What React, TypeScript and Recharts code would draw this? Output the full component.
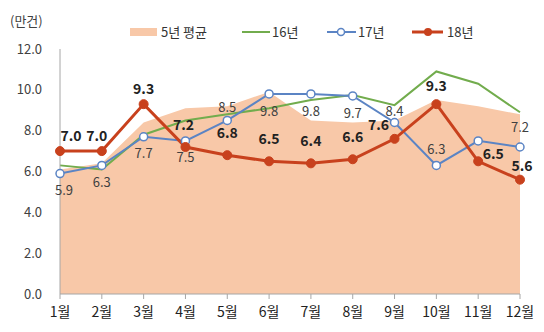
import { ComposedChart, Area, Line, XAxis, YAxis, LabelList } from "recharts";

const months = ["1월", "2월", "3월", "4월", "5월", "6월", "7월", "8월", "9월", "10월", "11월", "12월"];
const avg5 = [6.1, 6.4, 8.4, 9.1, 9.2, 9.9, 8.5, 8.4, 8.5, 9.5, 9.2, 8.8];
const y16 = [6.3, 6.1, 7.8, 8.5, 8.8, 9.1, 9.5, 9.75, 9.25, 10.9, 10.3, 8.9];
const y17 = [5.9, 6.3, 7.7, 7.5, 8.5, 9.8, 9.8, 9.7, 8.4, 6.3, 7.5, 7.2];
const y18 = [7.0, 7.0, 9.3, 7.2, 6.8, 6.5, 6.4, 6.6, 7.6, 9.3, 6.5, 5.6];
const show17 = [true, true, true, true, true, true, true, true, true, true, false, true];
const yTicks = [0, 2, 4, 6, 8, 10, 12];

// label offsets [dx, dy] relative to the point
const off17: [number, number][] = [
  [4, 18], [0, 18], [0, 18], [0, 18], [0, -12], [0, 19], [0, 19], [0, 19], [0, -10], [0, -15], [0, 0], [0, -19],
];
const off18: [number, number][] = [
  [11, -14], [-5, -14], [0, -14], [-2, -21], [0, -21], [0, -21], [0, -21], [0, -21], [-16, -13], [0, -17], [15, -6], [2, -12],
];

const data = months.map((m, i) => ({ m, avg5: avg5[i], y16: y16[i], y17: y17[i], y18: y18[i] }));

const FONT = '"Noto Sans CJK KR", "Noto Sans", sans-serif';

const Label17 = (props: any) => {
  const { x, y, index, value } = props;
  if (!show17[index]) return null;
  const [dx, dy] = off17[index];
  return (
    <text x={x + dx} y={y + dy} textAnchor="middle" dominantBaseline="middle" fontSize={13} fill="#404040" fontFamily={FONT}>
      {value.toFixed(1)}
    </text>
  );
};

const Label18 = (props: any) => {
  const { x, y, index, value } = props;
  const [dx, dy] = off18[index];
  return (
    <text x={x + dx} y={y + dy} textAnchor="middle" dominantBaseline="middle" fontSize={14} fontWeight="bold" fill="#222" fontFamily={FONT}>
      {value.toFixed(1)}
    </text>
  );
};

const LegendBox = () => (
  <g fontFamily={FONT} fontSize={13} fill="#333">
    <rect x={130} y={28} width={27} height={8} fill="#F8C8A8" />
    <text x={161} y={33} dominantBaseline="middle">5년 평균</text>
    <line x1={242} y1={32} x2={270} y2={32} stroke="#72AC4D" strokeWidth={2} />
    <text x={272} y={33} dominantBaseline="middle">16년</text>
    <line x1={327} y1={32} x2={356} y2={32} stroke="#5B84C4" strokeWidth={2} />
    <circle cx={341} cy={32} r={3.5} fill="#fff" stroke="#5B84C4" strokeWidth={1.5} />
    <text x={358} y={33} dominantBaseline="middle">17년</text>
    <line x1={412} y1={32} x2={443} y2={32} stroke="#C8411D" strokeWidth={3} />
    <circle cx={428} cy={32} r={4} fill="#C8411D" />
    <text x={447} y={33} dominantBaseline="middle">18년</text>
    <text x={10} y={22} dominantBaseline="middle" fill="#404040">(만건)</text>
  </g>
);

export default function App() {
  return (
    <div style={{ position: "absolute", left: 0, top: 0, width: 544, height: 332, background: "#fff" }}>
      <ComposedChart width={544} height={332} data={data} margin={{ top: 49, right: 24, bottom: 0, left: 0 }}>
        <XAxis
          dataKey="m"
          scale="point"
          height={38}
          padding={{ left: 0, right: 0 }}
          stroke="#A6A6A6"
          tickSize={5}
          tickMargin={8}
          tick={{ fontSize: 14, fill: "#222", fontFamily: FONT }}
          interval={0}
        />
        <YAxis
          domain={[0, 12]}
          ticks={yTicks}
          width={60}
          stroke="#A6A6A6"
          tickSize={0}
          tickMargin={18}
          tickFormatter={(v: number) => v.toFixed(1)}
          tick={{ fontSize: 13, fill: "#404040", fontFamily: FONT }}
        />
        <Area dataKey="avg5" type="linear" fill="#F8C8A8" fillOpacity={1} stroke="none" isAnimationActive={false} />
        <Line dataKey="y16" type="linear" stroke="#72AC4D" strokeWidth={2} dot={false} isAnimationActive={false} />
        <Line
          dataKey="y17"
          type="linear"
          stroke="#5B84C4"
          strokeWidth={2}
          dot={{ r: 4, fill: "#fff", stroke: "#5B84C4", strokeWidth: 1.5 }}
          isAnimationActive={false}
        >
          <LabelList dataKey="y17" content={Label17} />
        </Line>
        <Line
          dataKey="y18"
          type="linear"
          stroke="#C8411D"
          strokeWidth={3}
          dot={{ r: 4.5, fill: "#C8411D", stroke: "#C8411D", strokeWidth: 1 }}
          isAnimationActive={false}
        >
          <LabelList dataKey="y18" content={Label18} />
        </Line>
        <LegendBox />
      </ComposedChart>
    </div>
  );
}
